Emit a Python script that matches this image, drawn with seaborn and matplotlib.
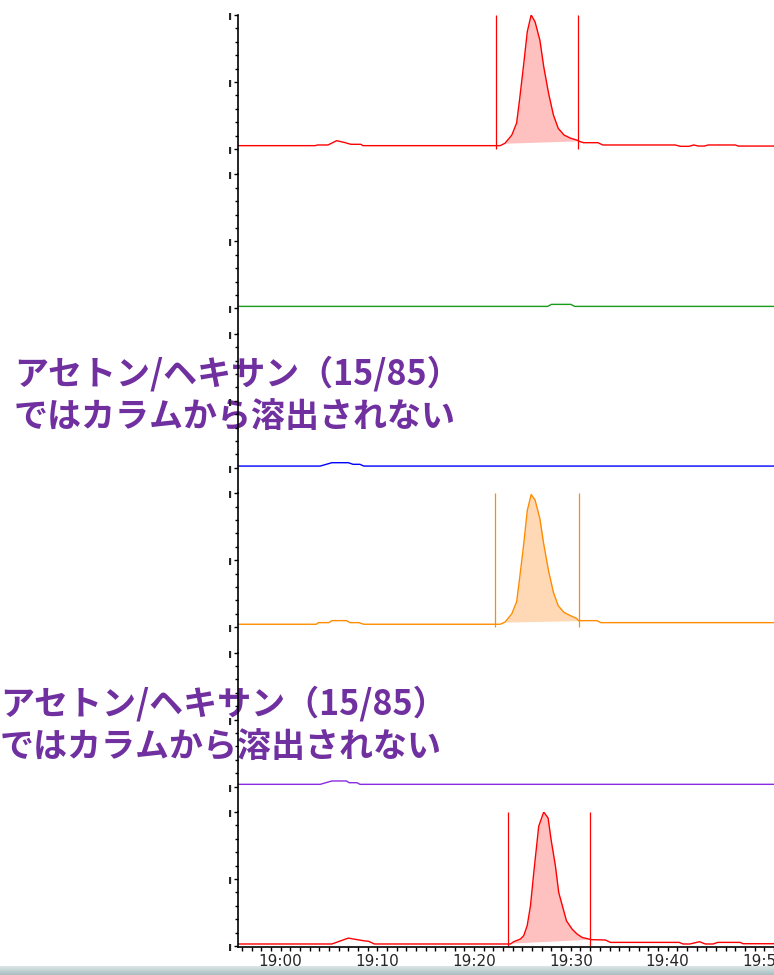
import numpy as np
import matplotlib
matplotlib.use("Agg")
import matplotlib.pyplot as plt
import seaborn as sns
from matplotlib.ticker import FixedLocator, MultipleLocator

# 時間軸 (19:00 からの分)
x_min, x_max = -4.4, 51.0
tick_minutes = [0, 10, 20, 30, 40, 50]
tick_labels = ["19:00", "19:10", "19:20", "19:30", "19:40", "19:50"]

# 各チャンネルのトレース (正規化した強度)
red1_t = [-4.4, 3.6, 3.8, 4.9, 5.8, 6.7, 7.0, 7.3, 8.3, 8.5, 22.7, 23.2, 23.9, 24.4, 24.7,
          25.1, 25.5, 25.9, 26.3, 26.8, 27.2, 27.7, 28.2, 28.7, 29.3, 30.0, 30.6, 31.0, 31.3,
          32.8, 33.3, 40.8, 41.3, 42.2, 42.7, 43.2, 43.8, 44.2, 47.0, 47.3, 51.2]
red1_v = [0.025, 0.025, 0.03, 0.03, 0.062, 0.047, 0.04, 0.035, 0.035, 0.025, 0.025, 0.043,
          0.104, 0.194, 0.366, 0.614, 0.875, 1.0, 0.95, 0.813, 0.614, 0.416, 0.254, 0.154,
          0.104, 0.08, 0.067, 0.054, 0.047, 0.047, 0.03, 0.03, 0.02, 0.02, 0.03, 0.022, 0.022,
          0.03, 0.03, 0.022, 0.022]

green_t = [-4.4, 27.6, 28.0, 30.0, 30.4, 51.2]
green_v = [0.015, 0.015, 0.03, 0.03, 0.015, 0.015]

blue_t = [-4.4, 4.1, 5.3, 7.0, 7.5, 8.2, 8.6, 51.2]
blue_v = [0.013, 0.013, 0.038, 0.038, 0.026, 0.026, 0.013, 0.013]

orange_t = [-4.4, 3.7, 3.9, 5.0, 5.3, 6.8, 7.2, 8.1, 8.6, 22.7, 23.2, 23.9, 24.4, 24.7, 25.1,
            25.5, 25.9, 26.3, 26.8, 27.2, 27.7, 28.2, 28.7, 29.3, 30.0, 30.6, 30.8, 32.7,
            33.1, 51.2]
orange_v = [0.022, 0.022, 0.034, 0.034, 0.049, 0.049, 0.034, 0.034, 0.022, 0.022, 0.038, 0.1,
            0.19, 0.36, 0.6, 0.87, 0.99, 0.95, 0.81, 0.62, 0.42, 0.26, 0.16, 0.11, 0.085,
            0.065, 0.049, 0.049, 0.034, 0.034]

purple_t = [-4.4, 4.1, 5.3, 6.8, 7.1, 7.9, 8.2, 51.2]
purple_v = [0.017, 0.017, 0.042, 0.042, 0.029, 0.029, 0.017, 0.017]

red6_t = [-4.4, 5.3, 7.0, 7.7, 8.6, 9.1, 9.7, 23.76, 24.1, 24.79, 25.13, 25.49, 25.83, 26.17,
          26.68, 27.2, 27.65, 27.96, 28.41, 28.75, 29.55, 30.13, 30.65, 31.17, 31.85, 32.2,
          33.57, 34.09, 41.2, 41.6, 42.3, 43.3, 43.9, 44.7, 45.2, 47.5, 47.8, 51.2]
red6_v = [0.015, 0.015, 0.059, 0.05, 0.039, 0.035, 0.015, 0.015, 0.032, 0.052, 0.077, 0.151,
          0.3, 0.547, 0.893, 1.0, 0.955, 0.794, 0.596, 0.399, 0.188, 0.126, 0.089, 0.064,
          0.052, 0.047, 0.045, 0.027, 0.027, 0.015, 0.015, 0.032, 0.015, 0.015, 0.027, 0.027,
          0.017, 0.017]

# ピーク区切り線と積分範囲
red1_marks = [22.24, 30.79]
orange_marks = [22.2, 30.8]
red6_marks = [23.48, 31.95]
red1_fill = (23.2, 30.79)
orange_fill = (23.2, 30.8)
red6_fill = (23.9, 31.95)

note_text = "アセトン/ヘキサン（15/85）\nではカラムから溶出されない"

traces = [
    (red1_t, red1_v, "#ff0000", "#ffc0c0", red1_marks, red1_fill),
    (green_t, green_v, "#1a9a1a", None, None, None),
    (blue_t, blue_v, "#0000ff", None, None, None),
    (orange_t, orange_v, "#ff8c00", "#ffd9b5", orange_marks, orange_fill),
    (purple_t, purple_v, "#8a2be2", None, None, None),
    (red6_t, red6_v, "#ff0000", "#ffc0c0", red6_marks, red6_fill),
]

sns.set_theme(style="white")
plt.rcParams['font.family'] = ['Noto Sans CJK JP', 'DejaVu Sans']

W, H = 774, 975
fig = plt.figure(figsize=(W / 100, H / 100), dpi=100)

left_px = 238
panel_step = 159.4
tick_span = 134.0
x_axis_px = 947.3

for i, (t, v, col, fcol, marks, frange) in enumerate(traces):
    top = 15 + panel_step * i
    bottom = top + panel_step if i < 5 else x_axis_px
    ax = fig.add_axes([left_px / W, 1 - bottom / H, (W - left_px) / W, (bottom - top) / H])
    ax.set_facecolor("none")
    ax.set_xlim(x_min, x_max)
    ax.set_ylim(1 - (bottom - top) / tick_span, 1)

    sns.lineplot(x=t, y=v, ax=ax, color=col, lw=1.0, estimator=None)
    if frange is not None:
        tt = np.linspace(frange[0], frange[1], 200)
        yy = np.interp(tt, t, v)
        base = np.interp(tt, [tt[0], tt[-1]], [yy[0], yy[-1]])
        ax.fill_between(tt, base, yy, color=fcol, lw=0, zorder=1)
    if marks is not None:
        ax.vlines(marks, 0.0, 1.0, color=col, lw=0.9)

    for s in ["top", "right"]:
        ax.spines[s].set_visible(False)
    ax.spines["left"].set_color("black")
    ax.spines["left"].set_linewidth(1.2)

    ax.yaxis.set_major_locator(FixedLocator([0, 0.5, 1.0]))
    ax.set_yticklabels(["ı", "ı", "ı"], fontsize=9, fontweight="bold", family="DejaVu Sans")
    ax.yaxis.set_minor_locator(FixedLocator([0.1, 0.2, 0.3, 0.4, 0.6, 0.7, 0.8, 0.9]))
    ax.tick_params(axis="y", which="major", left=True, length=3, width=1, pad=1, color="black")
    ax.tick_params(axis="y", which="minor", left=True, length=2, width=1, color="black")

    if i < 5:
        ax.spines["bottom"].set_visible(False)
        ax.set_xticks([])
    else:
        ax.spines["bottom"].set_color("black")
        ax.spines["bottom"].set_linewidth(1.2)
        ax.set_xticks(tick_minutes)
        ax.set_xticklabels(tick_labels, fontsize=11,
                           family=["Liberation Sans Narrow", "DejaVu Sans"])
        ax.xaxis.set_minor_locator(MultipleLocator(1))
        ax.tick_params(axis="x", which="both", bottom=True, length=3, width=1,
                       pad=2, color="black")
    ax.set_xlabel("")
    ax.set_ylabel("")

# 注釈テキスト (軸線の下に描く)
for (xp, yp) in [(14, 356), (0, 686)]:
    fig.text(xp / W, 1 - yp / H, note_text, color="#7030a0", fontsize=24.5,
             fontweight="bold", va="top", ha="left", linespacing=1.24, zorder=-1,
             family=["Noto Sans CJK JP", "DejaVu Sans"])

# 下端のステータスバー
bar = fig.add_axes([0, 0, 1, 9 / H])
grad = np.linspace(0, 1, 20).reshape(-1, 1)
bar.imshow(grad, aspect="auto", cmap=matplotlib.colors.LinearSegmentedColormap.from_list(
    "bar", ["#dce6e6", "#a9bfc1"]), extent=[0, 1, 0, 1])
bar.axis("off")

fig.savefig("out.png", dpi=100)
